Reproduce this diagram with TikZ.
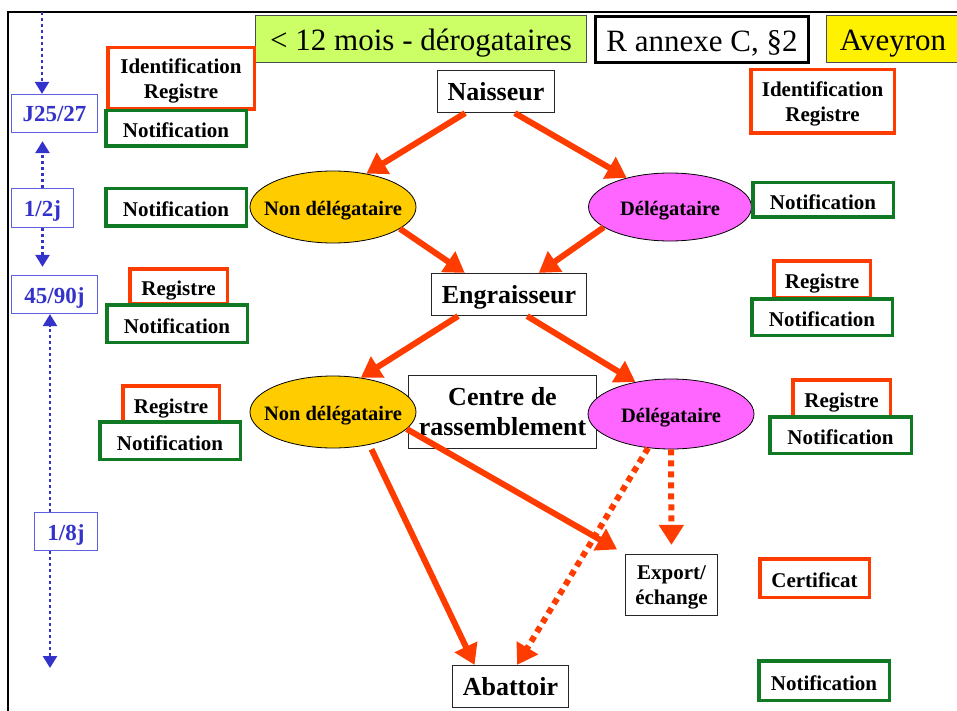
\documentclass[tikz,border=0pt]{standalone}
\usepackage{fontspec}
\setmainfont{Liberation Serif}
\usetikzlibrary{arrows.meta,shapes.geometric}
\definecolor{arrred}{RGB}{255,60,0}
\definecolor{boxred}{RGB}{255,60,0}
\definecolor{boxgreen}{RGB}{15,122,35}
\definecolor{tlblue}{RGB}{51,51,204}
\definecolor{tlframe}{RGB}{95,95,225}
\definecolor{lime}{RGB}{204,255,102}
\definecolor{gold}{RGB}{255,204,0}
\definecolor{pinkish}{RGB}{255,102,255}
\begin{document}
\begin{tikzpicture}[
  x=1pt, y=-1pt,
  base/.style={inner sep=0pt, align=center, font=\fontsize{21}{24}\selectfont\bfseries},
  redbox/.style={base, draw=boxred, line width=3.5pt, fill=white, text height=19pt, text depth=0pt},
  greenbox/.style={base, draw=boxgreen, line width=3.5pt, fill=white, text height=19pt, text depth=0pt},
  twolines/.style={font=\fontsize{21}{25}\selectfont\bfseries, text height=, text depth=-3.5pt},
  natural/.style={text height=, text depth=},
  stage/.style={base, draw=black!85, line width=1.2pt, fill=white, font=\fontsize{26}{30}\selectfont\bfseries, text height=18pt, text depth=0pt},
  oval/.style={ellipse, base, draw=black, line width=0.8pt, font=\fontsize{20.5}{22}\selectfont\bfseries, text height=16pt, text depth=0pt},
  delay/.style={base, draw=tlframe, line width=1.3pt, fill=white, text=tlblue, font=\fontsize{23}{25}\selectfont\bfseries, text height=17pt, text depth=0pt},
  banner/.style={inner sep=0pt, font=\fontsize{31}{33}\selectfont, text height=23.4pt, text depth=0pt},
  flow/.style={draw=arrred, line width=6pt, -{Triangle[length=20pt,width=24pt]}},
  flowdot/.style={flow, dash pattern=on 6pt off 5pt},
  tick/.style={draw=tlblue, line width=2.5pt, dash pattern=on 3pt off 3pt, -{Triangle[length=12pt,width=14pt]}},
]
\useasboundingbox (0,0) rectangle (957,711);

% outer frame
\draw[line width=2.5pt] (8,711) -- (8,12) -- (957,12);

% header banners
\node[banner, fill=lime, draw=black!70, line width=1pt, minimum width=331, minimum height=47] (b1) at (421,39) {< 12 mois - dérogataires};
\node[banner, fill=white, draw=black, line width=3pt, minimum width=213, minimum height=46] (b2) at (702,39.5) {R annexe C, §2};
\node[banner, fill=yellow, draw=black!70, line width=1pt, minimum width=133, minimum height=47] (b3) at (893,39) {Aveyron};

% stages of the flow
\node[stage, minimum width=117, minimum height=42] (nais) at (496,91.5) {Naisseur};
\node[stage, minimum width=155, minimum height=42] (engr) at (509,294.5) {Engraisseur};
\node[stage, natural, minimum width=188, minimum height=73] (centre) at (502.5,412) {Centre de\\rassemblement};
\node[stage, twolines, minimum width=92, minimum height=61] (export) at (671.5,585) {Export/\\échange};
\node[stage, minimum width=116, minimum height=42] (abat) at (510.5,686.5) {Abattoir};

\node[oval, fill=gold, minimum width=166, minimum height=72] (nd1) at (333,207) {\makebox[0pt]{Non délégataire}};
\node[oval, fill=pinkish, minimum width=163, minimum height=68] (d1) at (670,207) {\makebox[0pt]{Délégataire}};
\node[oval, fill=gold, minimum width=166, minimum height=72] (nd2) at (333,412) {\makebox[0pt]{Non délégataire}};
\node[oval, fill=pinkish, minimum width=166, minimum height=70] (d2) at (671,414) {\makebox[0pt]{Délégataire}};

% obligations, left column
\node[redbox, twolines, minimum width=146.5, minimum height=61.5] (idL) at (181,78.5) {Identification\\Registre};
\node[greenbox, minimum width=140.5, minimum height=35.5] (notL1) at (176,128.5) {Notification};
\node[greenbox, minimum width=140.5, minimum height=37.5] (notL2) at (176,207.5) {Notification};
\node[redbox, minimum width=97.5, minimum height=34.5] (regL3) at (178.5,286) {Registre};
\node[greenbox, minimum width=140.5, minimum height=37.5] (notL3) at (177,323.5) {Notification};
\node[redbox, minimum width=96.5, minimum height=35.5] (regL4) at (171,403.5) {Registre};
\node[greenbox, minimum width=140.5, minimum height=37.5] (notL4) at (170,440.5) {Notification};

% obligations, right column
\node[redbox, twolines, minimum width=143.5, minimum height=63.5] (idR) at (822.5,101.5) {Identification\\Registre};
\node[greenbox, minimum width=140.5, minimum height=34.5] (notR2) at (823,200) {Notification};
\node[redbox, minimum width=96.5, minimum height=36.5] (regR3) at (822,279) {Registre};
\node[greenbox, minimum width=140.5, minimum height=36.5] (notR3) at (822,317) {Notification};
\node[redbox, minimum width=97.5, minimum height=36.5] (regR4) at (841.5,398) {Registre};
\node[greenbox, minimum width=141.5, minimum height=36.5] (notR4) at (840.5,435) {Notification};
\node[redbox, minimum width=109.5, minimum height=38.5] (cert) at (814.5,578) {Certificat};
\node[greenbox, minimum width=130.5, minimum height=39.5] (notR5) at (824,680.5) {Notification};

% time line
\node[delay, minimum width=86, minimum height=38] (j25) at (54.5,113.5) {J25/27};
\node[delay, minimum width=62, minimum height=39] (hj) at (42.5,208) {1/2j};
\node[delay, minimum width=86, minimum height=38] (q) at (54.5,294.5) {45/90j};
\node[delay, minimum width=63, minimum height=38] (eighth) at (66,531.5) {1/8j};

\coordinate (top) at (42,12);
\coordinate (spine) at (50,0);
\coordinate (tend) at (50,668);
\draw[tick] (top) -- (top |- j25.north);
\draw[tick, shorten >=8pt] (hj.north) -- (hj.north |- j25.south);
\draw[tick, shorten >=8pt] (hj.south) -- (hj.south |- q.north);
\draw[tick] (spine |- eighth.north) -- (spine |- q.south);
\draw[tick] (spine |- eighth.south) -- (tend);

% animal movements
\draw[flow] (nais.215) -- (nd1.45);
\draw[flow] (nais.311) -- (d1.146);
\draw[flow] (nd1.342) -- (engr.154);
\draw[flow] (d1.197) -- (engr.36);
\draw[flow] (engr.203) -- (nd2.51);
\draw[flow] (engr.310) -- (d2.138);
\draw[flow, shorten <=5pt] (nd2.318) -- (abat.149);
\draw[flow, shorten >=9pt] (nd2.347) -- (export.north west);
\draw[flowdot] (d2.236) -- (abat.73);
\draw[flowdot, shorten >=9pt] (d2.south) -- (export.north);
\end{tikzpicture}
\end{document}
